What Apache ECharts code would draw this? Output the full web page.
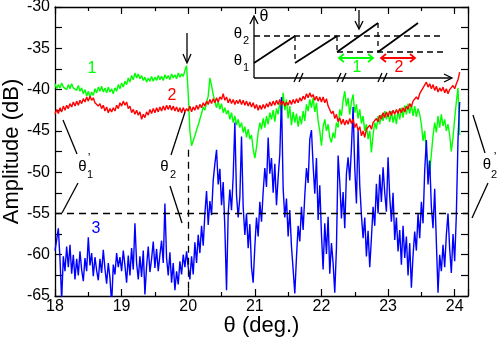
<!DOCTYPE html>
<html>
<head>
<meta charset="utf-8">
<script src="https://cdn.jsdelivr.net/npm/echarts@6/dist/echarts.min.js"></script>
<style>
html,body{margin:0;padding:0;background:#fff;}
#chart{width:498px;height:340px;}
</style>
</head>
<body>
<div id="chart"></div>
<script>
// sampling grid of the traces (deg.)
const thetaStart = 18;
const thetaStep = 0.025;

// trace 1 (green), dB
const trace1 = [
-39.3,-39.9,-39.4,-39.8,-39.2,-39.7,-39.5,-40.0,-39.4,-39.9,
-39.3,-39.8,-39.6,-40.1,-39.5,-40.2,-39.8,-40.5,-40.0,-40.8,
-40.2,-40.9,-40.3,-40.7,-39.9,-40.4,-39.7,-40.2,-39.6,-40.3,
-39.8,-40.4,-39.7,-40.3,-39.9,-40.5,-39.8,-40.2,-39.4,-39.9,
-39.2,-39.7,-39.0,-39.4,-38.6,-39.1,-38.3,-38.8,-38.0,-38.6,
-38.1,-38.7,-38.3,-38.9,-38.5,-39.1,-38.6,-39.0,-38.4,-39.0,
-38.5,-38.9,-38.3,-38.8,-38.4,-38.9,-38.2,-38.7,-38.3,-38.8,
-38.1,-38.6,-38.2,-38.7,-38.0,-38.5,-38.1,-38.4,-37.7,-37.1,
-40.5,-45.0,-46.8,-46.2,-45.6,-44.9,-44.3,-43.6,-42.9,-42.1,
-42.5,-41.6,-40.8,-38.6,-39.5,-40.6,-41.5,-42.2,-41.4,-42.4,
-41.7,-42.8,-42.2,-43.0,-42.5,-43.6,-42.8,-44.0,-43.2,-44.3,
-43.6,-44.6,-44.0,-45.2,-44.5,-45.8,-44.8,-46.0,-45.5,-47.2,
-48.3,-47.0,-45.2,-44.0,-44.8,-43.5,-44.6,-43.2,-44.2,-42.8,
-43.6,-42.5,-43.9,-42.3,-43.0,-41.6,-42.8,-40.4,-42.5,-41.2,
-43.5,-42.0,-44.3,-42.7,-44.0,-42.9,-44.5,-43.2,-44.2,-42.6,
-43.8,-41.8,-42.6,-41.2,-42.2,-41.0,-42.7,-41.6,-43.8,-45.0,
-46.8,-44.5,-43.6,-45.0,-44.2,-45.8,-46.4,-45.2,-45.9,-44.0,
-44.6,-42.4,-43.2,-41.3,-40.2,-42.0,-41.0,-43.0,-41.5,-40.6,
-42.8,-41.8,-43.5,-42.4,-44.1,-43.2,-45.0,-44.2,-46.0,-45.0,
-47.6,-45.5,-44.0,-44.8,-43.2,-44.2,-43.0,-43.8,-42.6,-43.6,
-42.8,-43.9,-42.6,-44.0,-43.0,-44.2,-42.5,-43.6,-42.2,-43.4,
-41.9,-43.0,-41.7,-42.9,-41.8,-43.2,-42.0,-43.3,-42.3,-43.0,
-44.2,-46.2,-45.0,-47.5,-49.0,-50.2,-47.8,-45.6,-44.0,-45.2,
-43.2,-44.6,-43.0,-44.4,-43.6,-45.0,-44.2,-45.5,-47.5,-45.8,
-43.5,-41.5,-39.8,-45.5
];

// trace 2 (red), dB
const trace2 = [
-43.0,-42.4,-42.9,-42.2,-42.7,-42.0,-42.5,-41.9,-42.3,-41.7,
-42.1,-41.5,-42.0,-41.4,-41.9,-41.3,-41.7,-41.1,-41.5,-40.9,
-41.4,-40.8,-41.3,-41.0,-41.6,-41.4,-42.0,-41.7,-42.3,-41.9,
-42.6,-42.1,-42.8,-42.3,-42.7,-42.2,-42.6,-41.9,-42.3,-41.6,
-42.0,-41.4,-41.9,-41.5,-42.3,-42.0,-42.8,-42.4,-43.0,-42.5,
-43.1,-42.7,-43.6,-43.0,-43.4,-42.7,-43.1,-42.4,-42.9,-42.3,
-42.8,-42.2,-42.7,-42.1,-42.6,-42.0,-42.5,-41.9,-42.4,-41.9,
-42.5,-42.0,-42.6,-42.1,-42.7,-42.2,-42.8,-42.2,-42.7,-42.3,
-42.6,-42.0,-42.7,-42.1,-42.5,-41.9,-42.4,-41.8,-42.2,-41.6,
-42.0,-41.4,-41.8,-41.2,-41.7,-41.1,-41.6,-41.0,-41.5,-40.9,
-41.2,-40.5,-41.3,-40.9,-41.6,-41.1,-41.7,-41.2,-41.8,-41.3,
-41.7,-41.2,-41.8,-41.3,-41.9,-41.4,-42.0,-41.5,-42.1,-41.6,
-42.3,-41.8,-42.5,-41.9,-42.4,-41.8,-42.3,-41.7,-42.1,-41.5,
-42.0,-41.4,-41.9,-41.3,-41.8,-41.2,-41.9,-41.4,-42.0,-41.5,
-41.9,-41.3,-41.8,-41.2,-41.7,-41.1,-41.6,-41.0,-41.4,-40.8,
-41.2,-40.5,-41.0,-40.4,-40.9,-40.6,-41.3,-40.8,-41.4,-40.9,
-41.5,-40.9,-41.6,-41.1,-42.0,-41.8,-42.9,-42.6,-43.5,-43.0,
-43.9,-43.4,-44.2,-43.6,-44.3,-43.7,-44.2,-43.5,-44.1,-43.6,
-44.6,-44.1,-45.0,-44.5,-45.6,-45.0,-45.8,-44.8,-45.0,-44.3,
-44.8,-44.0,-44.2,-43.5,-43.9,-43.1,-43.6,-42.8,-43.4,-42.7,
-43.3,-42.6,-43.1,-42.5,-43.0,-42.4,-42.9,-42.3,-42.8,-42.2,
-42.7,-42.0,-42.4,-41.7,-42.1,-41.4,-41.6,-40.9,-41.2,-40.5,
-40.6,-39.8,-39.6,-39.1,-39.7,-39.3,-39.9,-39.4,-40.1,-39.6,
-40.3,-39.8,-40.2,-39.7,-40.4,-39.9,-40.5,-40.0,-40.2,-39.5,
-39.9,-39.3,-38.8,-37.9
];

// trace 3 (blue), dB
const trace3 = [
-59.5,-58.2,-56.8,-60.5,-65.5,-60.2,-62.0,-59.0,-61.5,-58.8,
-62.3,-60.0,-63.0,-60.5,-62.5,-59.6,-61.8,-63.2,-60.4,-62.0,
-57.9,-61.3,-59.8,-62.6,-60.3,-61.9,-63.1,-60.5,-62.2,-59.4,
-61.7,-63.5,-61.0,-62.8,-66.0,-61.2,-62.4,-59.8,-61.5,-60.3,
-62.0,-59.5,-61.3,-63.4,-60.1,-62.5,-59.2,-61.8,-56.2,-61.0,
-63.0,-60.2,-62.7,-59.5,-64.8,-61.4,-59.0,-62.1,-60.5,-58.4,
-61.6,-59.3,-62.0,-60.0,-58.3,-61.0,-53.8,-60.4,-62.5,-59.7,
-63.4,-61.0,-64.3,-62.0,-63.6,-60.8,-62.4,-60.0,-61.5,-59.6,
-61.5,-63.0,-60.2,-62.4,-58.5,-61.0,-57.6,-59.8,-56.5,-58.9,
-55.0,-52.3,-56.4,-53.5,-55.2,-51.0,-49.0,-47.3,-51.5,-49.6,
-54.0,-51.2,-56.8,-64.3,-55.0,-52.1,-54.6,-50.5,-44.0,-52.8,
-55.5,-53.0,-45.7,-54.2,-57.6,-55.0,-59.2,-56.3,-61.5,-63.4,
-59.0,-55.5,-57.8,-53.6,-56.0,-52.4,-49.5,-51.8,-45.8,-50.2,
-48.3,-52.5,-49.0,-54.0,-50.6,-47.8,-40.9,-52.0,-55.5,-53.2,
-57.8,-54.6,-59.0,-61.8,-64.7,-60.3,-56.5,-58.4,-54.2,-57.0,
-52.8,-49.5,-51.3,-46.0,-44.9,-49.2,-52.6,-48.3,-55.8,-51.6,
-57.5,-61.8,-56.2,-59.9,-55.4,-62.3,-58.6,-61.0,-64.6,-59.2,
-48.0,-51.2,-55.6,-52.4,-56.8,-50.2,-48.2,-51.0,-47.1,-42.1,
-49.5,-53.8,-45.0,-51.6,-55.2,-58.0,-55.5,-60.2,-57.1,-61.5,
-58.0,-54.2,-56.5,-51.4,-55.0,-50.3,-53.6,-49.4,-52.5,-54.8,
-48.2,-53.0,-56.0,-52.5,-58.2,-55.5,-59.6,-57.0,-61.2,-56.5,
-60.4,-57.8,-62.5,-58.6,-64.0,-60.1,-57.2,-59.5,-55.0,-58.0,
-53.6,-56.2,-49.8,-46.1,-51.5,-48.6,-54.2,-56.8,-52.0,-58.5,
-64.6,-60.0,-62.0,-58.8,-61.5,-57.6,-55.0,-59.3,-62.2,-57.5,
-60.8,-55.2,-46.0,-41.5
];

// axis ticks
const xTicks = [18, 19, 20, 21, 22, 23, 24];
const yTicks = [-65, -60, -55, -50, -45, -40, -35, -30];
const thresholdLevel = -55;   // dashed horizontal level
const switchTheta = 20;       // dashed vertical position
const switchTop = -47.3;

const toPairs = arr => arr.map((v, i) => [thetaStart + i * thetaStep, v]);

const FONT = '"Liberation Sans", Arial, sans-serif';
const BLK = '#000';

function seg(x1, y1, x2, y2, opt) {
  opt = opt || {};
  return {
    type: 'line', silent: true, z: 100,
    shape: {x1, y1, x2, y2},
    style: {stroke: opt.color || BLK, lineWidth: opt.w || 1.3, lineDash: opt.dash || null}
  };
}
function head(pts, color, w) {
  return {
    type: 'polyline', silent: true, z: 100,
    shape: {points: pts},
    style: {stroke: color || BLK, lineWidth: w || 1.3, fill: null}
  };
}
function txt(s, x, y, size, color) {
  return {
    type: 'text', silent: true, z: 100,
    style: {text: s, x, y, font: size + 'px ' + FONT, fill: color || BLK, align: 'center', verticalAlign: 'middle'}
  };
}

const graphics = [
  // main annotations
  txt('1', 92, 69, 16, '#00ff00'),
  txt('2', 172, 96, 16, '#ff0000'),
  txt('3', 96, 229, 16, '#0000ff'),
  seg(187, 33, 187, 62),
  head([[183, 54], [187, 63], [191, 54]]),
  // theta'1
  seg(63, 120, 77, 154), seg(78, 183, 62, 213),
  txt('θ', 82.5, 167, 15), txt('\u2019', 89, 159, 12), txt('1', 90, 175, 11),
  // theta2
  seg(185, 112, 171, 155), seg(170, 186, 182, 223),
  txt('θ', 164.5, 167, 15), txt('2', 173, 175, 11),
  // theta'2
  seg(473, 115, 485, 153), seg(488, 183, 472, 218),
  txt('θ', 487, 165, 15), txt('\u2019', 495, 158, 12), txt('2', 494, 175, 11),
  // inset
  seg(254, 78, 254, 17), head([[250, 24], [254, 16], [258, 24]]),
  seg(254, 78, 451, 78), head([[444, 74], [452, 78], [444, 82]]),
  txt('θ', 264, 17, 16),
  txt('θ', 238, 34, 15), txt('2', 246, 41, 11),
  txt('θ', 238, 61, 15), txt('1', 246, 68, 11),
  seg(254, 63, 295, 36, {w: 1.8}),
  seg(295, 63, 337, 36, {w: 1.8}),
  seg(337, 52, 378, 23, {w: 1.8}),
  seg(378, 52, 418, 23, {w: 1.8}),
  seg(295, 36, 295, 63, {dash: [5, 4]}),
  seg(337, 36, 337, 52, {dash: [5, 4]}),
  seg(378, 23, 378, 52, {dash: [5, 4]}),
  seg(254, 36, 443, 36, {dash: [6, 4]}),
  seg(337, 52, 443, 52, {dash: [6, 4]}),
  seg(359, 10, 359, 28), head([[355, 21], [359, 29], [363, 21]]),
  seg(339, 58, 373, 58, {color: '#00ff00', w: 1.8}),
  head([[344, 54], [339, 58], [344, 62]], '#00ff00', 1.8),
  head([[368, 54], [373, 58], [368, 62]], '#00ff00', 1.8),
  txt('1', 357, 68, 16, '#00ff00'),
  seg(381, 58, 415, 58, {color: '#ff0000', w: 1.8}),
  head([[386, 54], [381, 58], [386, 62]], '#ff0000', 1.8),
  head([[410, 54], [415, 58], [410, 62]], '#ff0000', 1.8),
  txt('2', 399, 68, 16, '#ff0000'),
  seg(294, 82, 298, 73), seg(299, 82, 303, 73),
  seg(337, 82, 341, 73), seg(342, 82, 346, 73),
  seg(378, 82, 382, 73), seg(383, 82, 387, 73)
];

const axisCommon = {
  axisLine: {show: true, onZero: false, lineStyle: {color: BLK, width: 1.3}},
  splitLine: {show: false},
};

const chart = echarts.init(document.getElementById('chart'), null, {renderer: 'canvas'});
chart.setOption({
  animation: false,
  backgroundColor: '#fff',
  grid: {left: 55, right: 30, top: 7, bottom: 44, containLabel: false, outerBoundsMode: 'none'},
  xAxis: [
    Object.assign({
      type: 'value', min: xTicks[0], max: 24.2, interval: 1, position: 'bottom',
      axisTick: {show: true, inside: true, length: 7, lineStyle: {color: BLK, width: 1.2}},
      minorTick: {show: true, splitNumber: 2, length: 4, lineStyle: {color: BLK, width: 1.2}},
      axisLabel: {show: true, color: BLK, fontSize: 16, fontFamily: FONT, margin: 3, showMaxLabel: false,
        formatter: v => xTicks.includes(v) ? String(v) : ''},
      name: 'θ (deg.)', nameLocation: 'middle', nameGap: 19, nameMoveOverlap: false,
      nameTextStyle: {color: BLK, fontSize: 22, fontFamily: FONT}
    }, axisCommon),
    Object.assign({
      type: 'value', min: xTicks[0], max: 24.2, interval: 1, position: 'top',
      axisTick: {show: true, inside: true, length: 7, lineStyle: {color: BLK, width: 1.2}},
      minorTick: {show: true, splitNumber: 2, length: 4, lineStyle: {color: BLK, width: 1.2}},
      axisLabel: {show: false}
    }, axisCommon)
  ],
  yAxis: [
    Object.assign({
      type: 'value', min: yTicks[0], max: yTicks[yTicks.length - 1], interval: 5, position: 'left',
      axisTick: {show: true, inside: true, length: 7, lineStyle: {color: BLK, width: 1.2}},
      minorTick: {show: true, splitNumber: 2, length: 7, lineStyle: {color: BLK, width: 1.2}},
      axisLabel: {show: true, color: BLK, fontSize: 16, fontFamily: FONT, margin: 5},
      name: 'Amplitude (dB)', nameLocation: 'middle', nameGap: 32, nameRotate: 90, nameMoveOverlap: false,
      nameTextStyle: {color: BLK, fontSize: 22, fontFamily: FONT}
    }, axisCommon),
    Object.assign({
      type: 'value', min: yTicks[0], max: yTicks[yTicks.length - 1], interval: 5, position: 'right',
      axisTick: {show: true, inside: true, length: 7, lineStyle: {color: BLK, width: 1.2}},
      minorTick: {show: true, splitNumber: 2, length: 7, lineStyle: {color: BLK, width: 1.2}},
      axisLabel: {show: false}
    }, axisCommon)
  ],
  series: [
    {
      name: '1', type: 'line', xAxisIndex: 0, yAxisIndex: 0, data: toPairs(trace1),
      showSymbol: false, symbol: 'none', clip: true, z: 2,
      lineStyle: {color: '#00ff00', width: 1.4}
    },
    {
      name: '3', type: 'line', xAxisIndex: 0, yAxisIndex: 0, data: toPairs(trace3),
      showSymbol: false, symbol: 'none', clip: true, z: 3,
      lineStyle: {color: '#0000ff', width: 1.4},
      markLine: {
        silent: true, symbol: 'none', animation: false,
        label: {show: false},
        lineStyle: {color: BLK, type: [7, 5], width: 1.3},
        data: [
          {yAxis: thresholdLevel},
          [{coord: [switchTheta, switchTop]}, {coord: [switchTheta, yTicks[0]]}]
        ]
      }
    },
    {
      name: '2', type: 'line', xAxisIndex: 0, yAxisIndex: 0, data: toPairs(trace2),
      showSymbol: false, symbol: 'none', clip: true, z: 4,
      lineStyle: {color: '#ff0000', width: 1.4}
    }
  ],
  graphic: graphics
});
</script>
</body>
</html>
